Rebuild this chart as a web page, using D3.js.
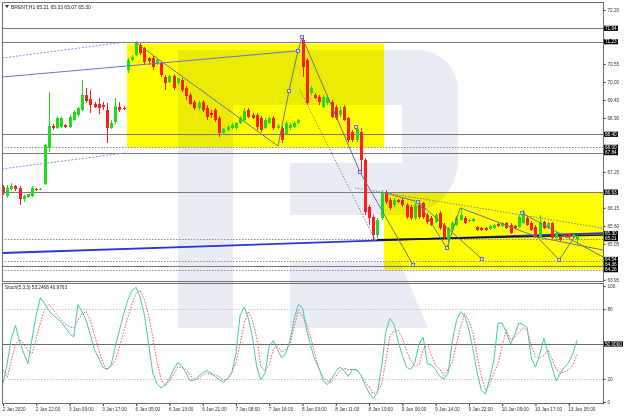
<!DOCTYPE html>
<html>
<head>
<meta charset="utf-8">
<script src="https://cdn.jsdelivr.net/npm/d3@7/dist/d3.min.js"></script>
<style>
html,body{margin:0;padding:0;background:#fff;}
svg{display:block;}
text{font-family:"Liberation Sans",Arial,sans-serif;}
</style>
</head>
<body>
<svg id="chart" width="624" height="416"></svg>
<script>
// ---------- DATA ----------
const symbolTitle = "BRENT,H1 65.21 65.33 65.07 65.30";
const stochTitle = "Stoch(5,3,3) 53.2468 40.9763";

const opens = [66.79,66.51,66.73,66.82,66.76,66.42,66.48,66.51,66.73,66.70,
 66.88,67.98,68.65,68.59,68.62,68.68,68.62,68.84,68.99,69.14,
 69.60,69.48,69.33,69.33,69.30,69.14,68.59,68.78,69.23,69.20,
 70.37,70.67,70.82,71.13,71.04,70.73,70.73,70.58,70.58,70.15,
 70.00,70.18,69.97,70.06,69.82,69.60,69.39,69.20,69.39,69.20,
 69.05,69.14,68.90,68.44,68.53,68.59,68.59,68.75,68.84,69.14,
 68.99,68.99,68.90,68.59,68.75,68.90,68.59,68.59,68.38,68.59,
 68.62,68.75,71.28,70.67,69.66,69.60,69.54,69.23,69.36,69.39,
 69.23,68.99,69.23,68.90,68.47,68.22,68.47,67.61,66.18,65.87,
 65.32,65.84,66.60,66.39,66.24,66.39,66.39,66.24,66.18,65.84,
 66.24,66.30,65.93,65.84,65.72,65.99,65.63,65.17,65.47,65.63,
 65.78,65.84,65.75,65.75,65.57,65.53,65.53,65.50,65.53,65.66,
 65.60,65.69,65.63,65.60,65.57,65.69,65.84,65.69,65.57,65.26,
 65.72,65.53,65.69,65.23,65.26,65.32,65.35,65.26,65.21];
const highs = [66.85,66.85,66.91,66.85,66.82,66.54,66.57,66.82,66.76,66.76,
 68.10,69.69,68.71,68.96,68.93,68.71,68.99,69.14,69.23,70.06,
 69.82,69.75,69.39,69.51,69.39,69.36,68.84,69.51,69.39,69.26,
 70.73,70.82,71.25,71.19,71.07,70.76,70.79,70.73,70.61,70.21,
 70.21,70.24,70.12,70.12,69.88,69.66,69.45,69.42,69.45,69.30,
 69.14,69.20,68.96,68.59,68.68,68.75,68.78,68.96,69.20,69.20,
 69.05,69.05,68.96,68.90,68.93,68.96,68.71,68.65,68.81,68.75,
 68.81,68.87,71.40,70.73,69.88,69.66,69.60,69.60,69.57,69.45,
 69.30,69.26,69.30,68.93,68.53,68.62,68.59,67.67,66.24,65.93,
 65.84,66.70,66.70,66.45,66.45,66.42,66.45,66.30,66.24,66.30,
 66.33,66.33,65.99,65.90,65.99,66.05,65.69,65.57,65.75,65.90,
 66.15,65.90,65.81,65.84,65.60,65.57,65.57,65.63,65.66,65.69,
 65.72,65.72,65.69,65.63,65.93,66.08,65.90,65.75,65.63,65.93,
 65.75,65.72,65.72,65.41,65.29,65.35,65.38,65.35,65.33];
const lows = [66.54,66.45,66.70,66.67,66.24,66.33,66.45,66.48,66.67,66.70,
 66.85,67.86,68.53,68.56,68.59,68.59,68.59,68.81,68.93,69.11,
 69.36,69.05,69.20,69.02,69.14,68.13,68.56,68.71,69.08,69.14,
 70.27,70.64,70.79,70.82,70.55,70.52,70.37,70.52,70.15,69.75,
 69.97,69.75,69.91,69.69,69.45,69.30,69.14,69.14,69.08,68.84,
 68.90,68.78,68.32,68.38,68.50,68.56,68.53,68.71,68.81,68.90,
 68.87,68.53,68.47,68.56,68.71,68.53,68.56,68.13,68.38,68.53,
 68.59,68.71,70.15,69.30,69.60,69.48,69.30,69.20,69.30,68.90,
 68.84,68.93,68.81,68.16,68.16,68.16,67.25,65.93,65.63,65.17,
 65.23,65.78,66.27,66.08,66.18,66.30,66.18,65.81,65.78,65.78,
 65.81,65.81,65.66,65.60,65.69,65.47,65.20,64.86,65.41,65.60,
 65.75,65.66,65.72,65.72,65.44,65.44,65.44,65.47,65.50,65.57,
 65.57,65.50,65.35,65.50,65.53,65.66,65.60,65.44,65.23,65.23,
 65.50,65.50,65.20,65.17,65.11,65.23,65.23,65.23,65.07];
const closes = [66.60,66.76,66.82,66.73,66.42,66.51,66.57,66.76,66.70,66.73,
 68.07,68.65,68.59,68.90,68.90,68.62,68.93,69.08,69.20,69.60,
 69.42,69.30,69.23,69.20,69.23,68.59,68.75,69.26,69.14,69.17,
 70.67,70.76,71.19,70.89,70.61,70.64,70.46,70.67,70.21,69.97,
 70.18,69.82,70.12,69.75,69.57,69.33,69.20,69.36,69.14,68.93,
 68.99,68.84,68.44,68.56,68.62,68.68,68.75,68.90,69.11,68.93,
 68.90,68.62,68.53,68.84,68.90,68.59,68.65,68.22,68.75,68.68,
 68.75,68.84,70.46,69.36,69.82,69.51,69.39,69.54,69.54,68.93,
 68.90,69.14,68.84,68.22,68.22,68.56,67.61,66.02,65.84,65.32,
 65.78,66.60,66.33,66.15,66.39,66.33,66.24,65.87,65.84,66.24,
 65.87,65.87,65.72,65.63,65.93,65.53,65.26,65.53,65.69,65.84,
 65.93,65.69,65.78,65.81,65.47,65.47,65.47,65.60,65.63,65.60,
 65.69,65.53,65.38,65.53,65.87,66.02,65.63,65.47,65.26,65.72,
 65.53,65.69,65.23,65.38,65.17,65.26,65.26,65.32,65.30];

const stochK = [16,33,55,66,52,42,33,55,75,90,
 85,79,75,72,69,64,59,56,84,78,
 70,58,45,38,30,28,32,48,62,76,
 88,96,99,90,75,50,25,16,12,15,
 20,28,34,31,25,18,19,22,25,27,
 25,22,19,17,20,25,42,75,82,72,
 55,30,19,25,48,53,45,38,42,53,
 72,84,81,62,48,36,29,18,15,20,
 26,30,27,22,28,28,23,15,8,3,
 8,30,60,72,67,52,40,30,28,34,
 50,56,33,32,28,22,20,25,52,70,
 78,74,62,45,25,10,7,20,36,68,
 68,60,50,58,68,67,64,38,30,41,
 55,42,30,18,25,30,34,42,53.2468];
const stochD = [28,21,35,50,54,50,44,42,55,68,
 80,84,80,75,71,67,65,64,70,76,
 78,70,58,45,34,28,31,36,48,60,
 73,84,94,96,88,75,56,35,20,14,
 18,24,30,30,28,23,19,20,23,25,
 24,23,22,19,20,26,34,50,68,78,
 70,55,30,27,32,46,48,43,45,50,
 65,79,74,67,55,41,28,21,18,17,
 22,27,29,28,28,27,24,18,13,7,
 9,15,35,57,61,62,55,44,36,31,
 32,45,50,40,32,28,23,28,34,50,
 65,76,70,59,40,22,10,15,25,33,
 48,62,54,56,60,64,62,48,39,38,
 40,45,37,28,25,26,28,32,40.9763];

const timeLabels = ["2 Jan 2020","2 Jan 22:00","3 Jan 09:00","3 Jan 17:00","6 Jan 05:00","6 Jan 13:00",
 "6 Jan 21:00","7 Jan 08:00","7 Jan 16:00","8 Jan 03:00","8 Jan 11:00","8 Jan 19:00",
 "9 Jan 06:00","9 Jan 14:00","9 Jan 22:00","10 Jan 09:00","10 Jan 17:00","13 Jan 05:00"];
const timeLabelBars = [0,8,16,24,32,40,48,56,64,72,80,88,96,104,112,120,128,136];

const priceTicks = [72.20,71.65,71.10,70.55,70.00,69.45,68.90,68.35,67.80,67.25,66.70,66.15,65.60,65.05,64.50,63.95];
const levelPrices = [71.64,71.23,68.40,68.00,67.84,66.63,65.21,64.54,64.36,64.26];
const dottedLevelPrices = [68.00,65.21,64.54,64.26];
const boxedPrices = [71.64,71.23,68.40,68.00,67.84,66.63,65.30,65.21,64.54,64.36,64.26];

const stochTicks = [100,80,20,0];
const stochLevels = [80,50,20];

// rectangles: bar index start/end, price top/bottom
const zoneStart = [29.8, 91.6];
const zoneEnd = [91.6, 144.23];
const zoneTop = [71.17, 66.63];
const zoneBottom = [68.00, 64.26];

// trend lines as [barIndex, price] points
const blueLine = [[-0.24,70.15],[70.9,70.95]];
const blueDotLines = [[[-0.24,70.73],[29.3,71.22]], [[-0.24,67.34],[29.3,67.83]]];
const blueThickLine = [[-0.24,64.77],[144.23,65.38]];
const blackLine = [[89.9,65.17],[144.23,65.32]];
const analysisLines = [
 [[31.7,71.22],[66.1,68.04]],
 [[66.1,68.04],[68.75,69.72],[70.9,70.95],[71.9,71.37]],
 [[71.9,71.37],[85.8,67.25],[98.6,64.40]],
 [[92.1,66.60],[99.8,66.33]],
 [[99.8,66.33],[106.7,64.92]],
 [[99.8,66.33],[115.1,64.59]],
 [[106.7,64.92],[109.9,66.15]],
 [[109.9,66.15],[128.4,65.26]],
 [[124.8,65.99],[144.23,64.65]],
 [[128.4,65.26],[133.7,64.56],[137.7,65.32]],
 [[128.4,65.26],[144.23,64.86]]
];
const analysisDotted = [
 [[71.4,69.75],[89.7,65.11]],
 [[84.6,66.76],[144.23,65.53]]
];
const markerPoints = [[68.75,69.72],[70.9,70.95],[71.9,71.37],[85.8,67.25],[98.6,64.40],
 [99.8,66.33],[106.7,64.92],[115.1,64.59],[124.8,65.99],[133.7,64.56],[84.9,68.62]];

// ---------- DRAW ----------
const svg = d3.select("#chart");
svg.append("rect").attr("width",624).attr("height",416).attr("fill","#fff");
const defs = svg.append("defs");
defs.append("clipPath").attr("id","clipMain").append("rect").attr("x",2).attr("y",2).attr("width",601).attr("height",279);
defs.append("clipPath").attr("id","clipSub").append("rect").attr("x",2).attr("y",283).attr("width",601).attr("height",121);

const x = d3.scaleLinear().domain([-0.24,144.23]).range([2,603]);
const y = d3.scaleLinear().domain([63.95,72.20]).range([279.8,10]);
const ys = d3.scaleLinear().domain([0,100]).range([402,286]);
const FONT = 4.7;

// zones
const gZones = svg.append("g").attr("clip-path","url(#clipMain)");
gZones.selectAll("rect").data(zoneStart).join("rect")
  .attr("x",(d)=>x(d)).attr("y",(d,i)=>y(zoneTop[i]))
  .attr("width",(d,i)=>x(zoneEnd[i])-x(d))
  .attr("height",(d,i)=>y(zoneBottom[i])-y(zoneTop[i]))
  .attr("fill","#ffff00");

// watermark logo (decorative)
const gLogo = svg.append("g").style("mix-blend-mode","multiply").attr("fill","#e9ecf4");
gLogo.append("rect").attr("x",178).attr("y",50).attr("width",55).attr("height",278);
gLogo.append("path").attr("d","M233,50 H418 A40,40 0 0 1 458,90 V160 A55,55 0 0 1 403,215 H290 V163 H402 V105 H233 Z");
gLogo.append("path").attr("d","M290,262 H400 L428,328 H290 Z");

// level lines
const gMain = svg.append("g").attr("clip-path","url(#clipMain)");
gMain.selectAll("line.lvl").data(levelPrices).join("line")
  .attr("x1",2).attr("x2",603)
  .attr("y1",d=>Math.round(y(d))+0.5).attr("y2",d=>Math.round(y(d))+0.5)
  .attr("stroke",d=>dottedLevelPrices.includes(d)?"#8c8c8c":"#7a7a7a")
  .attr("stroke-width",1)
  .attr("stroke-dasharray",d=>dottedLevelPrices.includes(d)?"1.5,1.5":null);

const line = d3.line().x(d=>x(d[0])).y(d=>y(d[1]));

// thick blue & black lines
gMain.append("path").attr("d",line(blueThickLine)).attr("stroke","#2a35e0").attr("stroke-width",1.8).attr("fill","none");
gMain.append("path").attr("d",line(blackLine)).attr("stroke","#151515").attr("stroke-width",1.6).attr("fill","none");

// candles
const idx = d3.range(opens.length);
const upC = "#1edc1e", dnC = "#ff1c1c";
const gC = gMain.append("g").attr("shape-rendering","crispEdges");
gC.selectAll("line").data(idx).join("line")
  .attr("x1",i=>Math.round(x(i))+0.5).attr("x2",i=>Math.round(x(i))+0.5)
  .attr("y1",i=>y(highs[i])).attr("y2",i=>y(lows[i]))
  .attr("stroke",i=>closes[i]>=opens[i]?upC:dnC).attr("stroke-width",1);
gC.selectAll("rect").data(idx).join("rect")
  .attr("x",i=>Math.round(x(i))-1).attr("width",3)
  .attr("y",i=>Math.min(y(opens[i]),y(closes[i])))
  .attr("height",i=>Math.max(1,Math.abs(y(opens[i])-y(closes[i]))))
  .attr("fill",i=>closes[i]>=opens[i]?upC:dnC);

// other trend lines
gMain.append("path").attr("d",line(blueLine)).attr("stroke","#6a72d8").attr("stroke-width",1).attr("fill","none");
blueDotLines.forEach(l=>gMain.append("path").attr("d",line(l)).attr("stroke","#8a8cf0").attr("stroke-width",1).attr("stroke-dasharray","2,1.5").attr("fill","none"));
analysisLines.forEach(l=>gMain.append("path").attr("d",line(l)).attr("stroke","#6c7094").attr("stroke-width",1).attr("fill","none"));
analysisDotted.forEach(l=>gMain.append("path").attr("d",line(l)).attr("stroke","#7a7fb0").attr("stroke-width",1).attr("stroke-dasharray","1.5,1.5").attr("fill","none"));
gMain.selectAll("rect.mk").data(markerPoints).join("rect").attr("class","mk")
  .attr("x",d=>x(d[0])-1.5).attr("y",d=>y(d[1])-1.5).attr("width",3).attr("height",3)
  .attr("fill","#dfe2ff").attr("stroke","#4d55d8").attr("stroke-width",0.8);

// sub window
const gSub = svg.append("g").attr("clip-path","url(#clipSub)");
gSub.selectAll("line.sl").data(stochLevels).join("line")
  .attr("x1",2).attr("x2",603)
  .attr("y1",d=>Math.round(ys(d))+0.5).attr("y2",d=>Math.round(ys(d))+0.5)
  .attr("stroke",d=>d===50?"#6a6a6a":"#c4c4c4")
  .attr("stroke-dasharray",d=>d===50?null:"1.5,1.5");
const sline = d3.line().x((d,i)=>x(i)).y(d=>ys(d));
gSub.append("path").attr("d",sline(stochD)).attr("stroke","#ff4a4a").attr("stroke-width",1).attr("stroke-dasharray","1.5,1.5").attr("fill","none");
gSub.append("path").attr("d",sline(stochK)).attr("stroke","#42c9b0").attr("stroke-width",1).attr("fill","none");

// frames
svg.append("rect").attr("x",2.5).attr("y",2.5).attr("width",601).attr("height",279).attr("fill","none").attr("stroke","#6e6e6e");
svg.append("rect").attr("x",2.5).attr("y",283.5).attr("width",601).attr("height",120).attr("fill","none").attr("stroke","#6e6e6e");

// boxed label positions, stacked upward so they do not overlap
const boxSorted = boxedPrices.map(p=>({p, yy:y(p)})).sort((a,b)=>b.yy-a.yy);
for (let k=1;k<boxSorted.length;k++){
  if (boxSorted[k].yy > boxSorted[k-1].yy-5.1) boxSorted[k].yy = boxSorted[k-1].yy-5.1;
}
// hide plain ticks that would sit under a boxed label
const visibleTicks = priceTicks.filter(t=>boxSorted.every(b=>Math.abs(y(t)-b.yy)>=5));

// price axis
const ay = d3.axisRight(y).tickValues(visibleTicks).tickSize(2).tickPadding(2).tickFormat(d3.format(".2f"));
const gAy = svg.append("g").attr("transform","translate(603.5,0)").call(ay);
gAy.select(".domain").remove();
gAy.attr("font-size",FONT).attr("font-family","Liberation Sans, Arial, sans-serif").attr("color","#333");

// boxed labels
const gBox = svg.append("g");
boxSorted.forEach(b=>{
  gBox.append("rect").attr("x",604).attr("y",b.yy-2.6).attr("width",14).attr("height",5.2).attr("fill","#000");
  gBox.append("text").attr("x",605).attr("y",b.yy+1.7).attr("font-size",FONT).attr("fill","#fff").text(d3.format(".2f")(b.p));
});

// stoch axis
const ays = d3.axisRight(ys).tickValues(stochTicks).tickSize(2).tickPadding(2).tickFormat(d3.format("d"));
const gAys = svg.append("g").attr("transform","translate(603.5,0)").call(ays);
gAys.select(".domain").remove();
gAys.attr("font-size",FONT).attr("font-family","Liberation Sans, Arial, sans-serif").attr("color","#333");
gBox.append("rect").attr("x",604).attr("y",ys(50)-2.6).attr("width",19).attr("height",5.2).attr("fill","#000");
gBox.append("text").attr("x",605).attr("y",ys(50)+1.7).attr("font-size",FONT).attr("fill","#fff").text(d3.format(".4f")(50));

// time axis
const ax = d3.axisBottom(x).tickValues(timeLabelBars).tickSize(2).tickFormat((d,i)=>timeLabels[i]);
const gAx = svg.append("g").attr("transform","translate(0,404)").call(ax);
gAx.select(".domain").remove();
gAx.attr("font-size",FONT).attr("font-family","Liberation Sans, Arial, sans-serif").attr("color","#333");
gAx.selectAll("text").attr("text-anchor","start").attr("x",-1).attr("y",4).attr("dy","0.71em");

// headers
svg.append("path").attr("d","M5,5 L9,5 L7,8 Z").attr("fill","#333");
svg.append("text").attr("x",11).attr("y",8.5).attr("font-size",FONT+0.3).attr("fill","#222").text(symbolTitle);
svg.append("text").attr("x",5).attr("y",289).attr("font-size",FONT).attr("fill","#222").text(stochTitle);
</script>
</body>
</html>
